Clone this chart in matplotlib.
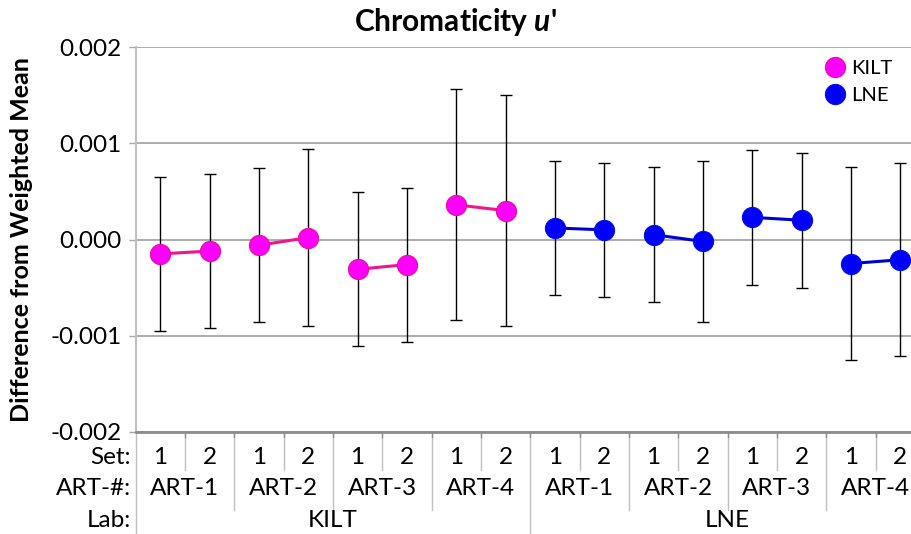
import matplotlib
matplotlib.use("Agg")
import matplotlib.pyplot as plt
import matplotlib.transforms as mtransforms
from matplotlib.lines import Line2D
import numpy as np

plt.rcParams['font.family'] = ['Lato', 'DejaVu Sans']
plt.rcParams['mathtext.fontset'] = 'custom'
plt.rcParams['mathtext.it'] = 'Lato:italic:bold'
plt.rcParams['mathtext.rm'] = 'Lato:bold'

labs = ["KILT", "LNE"]
arts = ["ART-1", "ART-2", "ART-3", "ART-4"]
sets = ["1", "2"]

kilt_vals = [-0.00015, -0.00012, -0.00006, 0.00002, -0.00031, -0.00026, 0.00036, 0.00030]
kilt_err = [0.00080, 0.00080, 0.00080, 0.00092, 0.00080, 0.00080, 0.00120, 0.00120]
lne_vals = [0.00012, 0.00010, 0.00005, -0.00002, 0.00023, 0.00020, -0.00025, -0.00021]
lne_err = [0.00070, 0.00070, 0.00070, 0.00084, 0.00070, 0.00070, 0.00100, 0.00100]

yticks = [0.002, 0.001, 0.0, -0.001, -0.002]
ytick_labels = ["0.002", "0.001", "0.000", "-0.001", "-0.002"]

W, H = 912, 534
fig = plt.figure(figsize=(W / 100, H / 100), dpi=100)
ax = fig.add_axes([135.5 / W, 1 - 432 / H, (925 - 135.5) / W, (432 - 47) / H])

styles = {
    "KILT": dict(face="#FF00FF", edge="#E8108C", line="#F0148C"),
    "LNE": dict(face="#0000FF", edge="#0010E0", line="#0000CC"),
}
series = {"KILT": (kilt_vals, kilt_err), "LNE": (lne_vals, lne_err)}

n_per_lab = len(arts) * len(sets)
for li, lab in enumerate(labs):
    vals, errs = series[lab]
    st = styles[lab]
    xs = np.arange(n_per_lab) + li * n_per_lab
    ax.errorbar(xs, vals, yerr=errs, fmt="none", ecolor="black", elinewidth=1.0,
                capsize=4.5, capthick=1.0, zorder=2)
    for a in range(len(arts)):
        i0 = a * len(sets)
        ax.plot(xs[i0:i0 + len(sets)], vals[i0:i0 + len(sets)], color=st["line"], lw=2.2,
                zorder=3)
    ax.plot(xs, vals, linestyle="none", marker="o", markersize=14.5,
            markerfacecolor=st["face"], markeredgecolor=st["edge"], markeredgewidth=0.8,
            zorder=4, label=lab)

ax.set_xlim(-0.5, 2 * n_per_lab - 0.5)
ax.set_ylim(-0.002, 0.002)
ax.set_yticks(yticks)
ax.set_yticklabels(ytick_labels, fontsize=17.5)
ax.set_xticks([])
ax.yaxis.grid(True, color="#A6A6A6", lw=1.3)
ax.set_axisbelow(True)
ax.tick_params(axis="y", length=5, color="#A6A6A6", width=1.0, pad=5)
for s in ["top", "right"]:
    ax.spines[s].set_visible(False)
ax.spines["left"].set_color("#BFBFBF")
ax.spines["left"].set_linewidth(1.5)
ax.spines["bottom"].set_color("#8C8C8C")
ax.spines["bottom"].set_linewidth(2.0)

ax.set_ylabel("Difference from Weighted Mean", fontsize=18, fontweight="bold")
ax.yaxis.set_label_coords(22 / W, 0.5, transform=fig.transFigure)
ax.yaxis.label.set_transform(mtransforms.blended_transform_factory(fig.transFigure, ax.transAxes))
ax.yaxis.label.set_position((22 / W, 0.5))
ax.yaxis.label.set_va("center")

fig.text(455 / W, 1 - 22 / H, r"Chromaticity $\mathit{u}$'", fontsize=21.5, fontweight="bold",
         ha="center", va="center")

leg = fig.legend(loc="center left", frameon=False, fontsize=14.5, handletextpad=0.15,
                 markerscale=1.0, labelspacing=0.5, bbox_to_anchor=(812 / W, 1 - 82 / H),
                 handlelength=1.3, borderpad=0)

# multi-level category axis
trans = mtransforms.blended_transform_factory(ax.transData, ax.transAxes)
row_set, row_art, row_lab = -0.066, -0.148, -0.229
line_kw = dict(color="#BFBFBF", lw=1.0, transform=trans, clip_on=False)
total = 2 * n_per_lab
for i in range(total):
    ax.text(i, row_set, sets[i % len(sets)], transform=trans, ha="center", va="center",
            fontsize=17.5)
for k in range(total // len(sets)):
    cx = k * len(sets) + (len(sets) - 1) / 2
    ax.text(cx, row_art, arts[k % len(arts)], transform=trans, ha="center", va="center",
            fontsize=17.5)
for li, lab in enumerate(labs):
    cx = li * n_per_lab + (n_per_lab - 1) / 2
    ax.text(cx, row_lab, lab, transform=trans, ha="center", va="center", fontsize=17.5)

for b in range(1, total):
    xb = b - 0.5
    if b % n_per_lab == 0:
        y1 = -0.27
    elif b % len(sets) == 0:
        y1 = -0.203
    else:
        y1 = -0.099
    ax.add_line(Line2D([xb, xb], [0, y1], **line_kw))
    ax.add_line(Line2D([xb, xb], [0, -0.012], color="#8C8C8C", lw=1.0, transform=trans,
                       clip_on=False))
ax.add_line(Line2D([-0.5, -0.5], [0, -0.27], **line_kw))

lab_trans = mtransforms.blended_transform_factory(fig.transFigure, ax.transAxes)
for txt, r in [("Set:", row_set), ("ART-#:", row_art), ("Lab:", row_lab)]:
    ax.text(131 / W, r, txt, transform=lab_trans, ha="right", va="center", fontsize=17.5)

fig.savefig("out.png", dpi=100)
